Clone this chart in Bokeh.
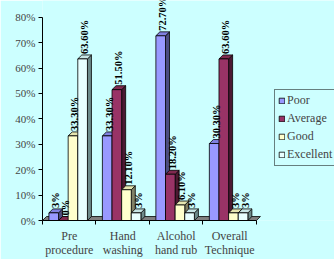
from bokeh.plotting import figure
from bokeh.models import (ColumnDataSource, FixedTicker, LabelSet, Legend,
                          LegendItem, Range1d)
from bokeh.embed import file_html
from bokeh.resources import INLINE
import math

categories = ["Pre\nprocedure", "Hand\nwashing", "Alcohol\nhand rub", "Overall\nTechnique"]
series = ["Poor", "Average", "Good", "Excellent"]
poor = [3, 33.3, 72.7, 30.3]
average = [0, 51.5, 18.2, 63.6]
good = [33.3, 12.1, 6.1, 3]
excellent = [63.6, 3, 3, 3]
y_ticks = [0, 10, 20, 30, 40, 50, 60, 70, 80]

values = [poor, average, good, excellent]
front_colors = ["#9999FF", "#993366", "#FFFFCC", "#E8FFFF"]
side_colors = ["#4C4C80", "#4C1933", "#808066", "#6E8A8A"]
top_colors = ["#8080E0", "#80294F", "#E6E6B0", "#C8E6E6"]
BG = "#CCFFFF"
FONT = "Liberation Serif"

n = len(categories)
W = 0.18          # bar width (x units)
DX = 0.075        # depth in x units
DY = 1.56         # depth in y units

p = figure(width=334, height=259, x_range=Range1d(0, 5.46), y_range=Range1d(0, 86.6),
           output_backend="svg", toolbar_location=None,
           min_border_left=42, min_border_bottom=37, min_border_top=0, min_border_right=0)
p.background_fill_color = BG
p.border_fill_color = BG
p.outline_line_color = None
p.xgrid.visible = False
p.ygrid.visible = False

# floor
p.patch([0, n, n + DX, DX], [0, 0, DY, DY], fill_color="#808080", line_color="black", line_width=0.8)

items = []
for j, (name, vals) in enumerate(zip(series, values)):
    lefts = [i + 0.5 + (j - 1.5) * W - 0.02 - W / 2 for i in range(n)]
    rights = [l + W for l in lefts]
    sides_x = [[r, r + DX, r + DX, r] for r in rights]
    sides_y = [[0, DY, v + DY, v] for v in vals]
    tops_x = [[l, l + DX, r + DX, r] for l, r in zip(lefts, rights)]
    tops_y = [[v, v + DY, v + DY, v] for v in vals]
    p.patches(sides_x, sides_y, fill_color=side_colors[j], line_color="black", line_width=0.8)
    p.patches(tops_x, tops_y, fill_color=top_colors[j], line_color="black", line_width=0.8)
    r = p.quad(left=lefts, right=rights, bottom=[0] * n, top=vals,
               fill_color=front_colors[j], line_color="black", line_width=0.8)
    items.append(LegendItem(label=name, renderers=[r]))
    txt = [("%d%%" % v) if float(v).is_integer() else ("%.2f%%" % v) for v in vals]
    src = ColumnDataSource(dict(x=[(l + r_ + DX) / 2 for l, r_ in zip(lefts, rights)],
                                y=[v + DY + 0.4 for v in vals], t=txt))
    p.add_layout(LabelSet(x="x", y="y", text="t", source=src, angle=math.pi / 2,
                          text_align="left", text_baseline="middle",
                          text_font=FONT, text_font_size="10.5px", text_font_style="bold",
                          text_color="black"))

# axes
xa = p.xaxis[0]
xa.ticker = FixedTicker(ticks=[i + 0.5 for i in range(n)], minor_ticks=list(range(n + 1)))
xa.major_label_overrides = {i + 0.5: c for i, c in enumerate(categories)}
xa.major_tick_out = 0
xa.major_tick_in = 0
xa.minor_tick_out = 4
xa.minor_tick_in = 0
xa.bounds = (0, n)
xa.major_label_text_font = FONT
xa.major_label_text_font_size = "12px"
xa.major_label_text_line_height = 1.0
xa.major_label_standoff = 4
xa.axis_line_color = "black"

ya = p.yaxis[0]
ya.ticker = FixedTicker(ticks=y_ticks, minor_ticks=[])
ya.major_label_overrides = {t: "%d%%" % t for t in y_ticks}
ya.major_tick_out = 4
ya.major_tick_in = 0
ya.bounds = (0, 80)
ya.major_label_text_font = FONT
ya.major_label_text_font_size = "11px"
ya.major_label_standoff = 3

legend = Legend(items=items, location=(232, 54), background_fill_color=BG,
                border_line_color="black", border_line_width=1,
                label_text_font=FONT, label_text_font_size="12px",
                glyph_width=7, glyph_height=7, label_height=13, label_standoff=2,
                spacing=3, padding=3, margin=0)
p.add_layout(legend)

open("out.html", "w").write(file_html(p, INLINE))
